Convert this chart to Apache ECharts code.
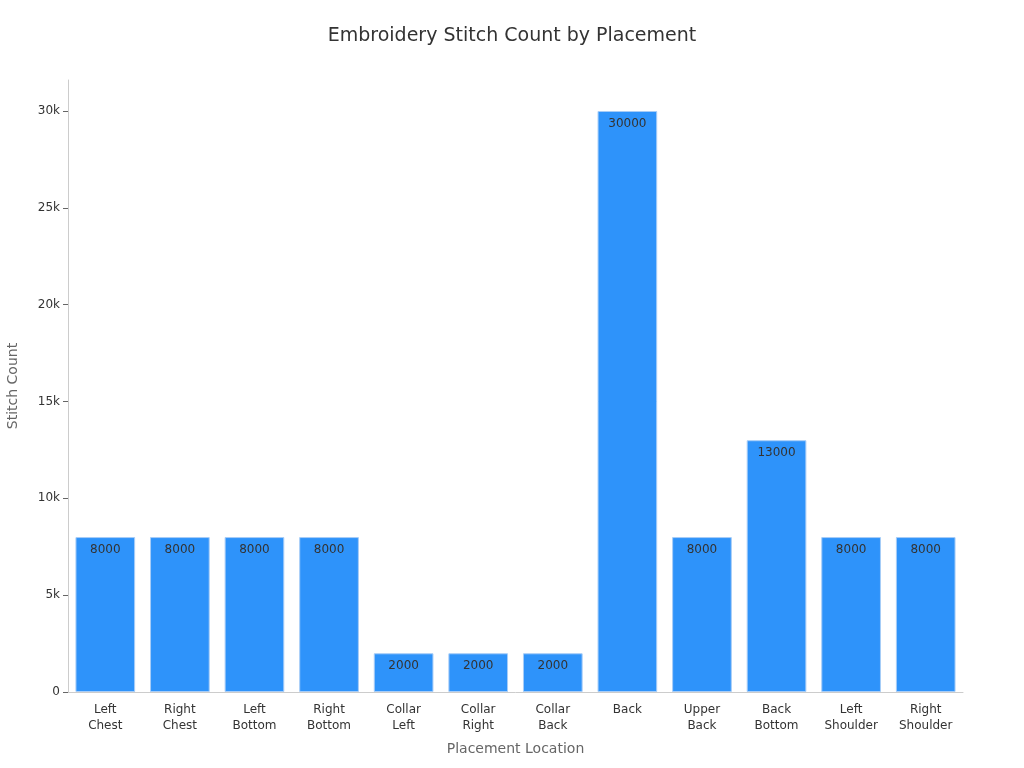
<!DOCTYPE html>
<html><head><meta charset="utf-8">
<script src="https://cdn.jsdelivr.net/npm/echarts@6/dist/echarts.min.js"></script>
<style>html,body{margin:0;padding:0}#chart{width:1024px;height:768px}</style>
</head><body><div id="chart"></div>
<script>
let placements = ['Left\nChest', 'Right\nChest', 'Left\nBottom', 'Right\nBottom', 'Collar\nLeft', 'Collar\nRight', 'Collar\nBack', 'Back', 'Upper\nBack', 'Back\nBottom', 'Left\nShoulder', 'Right\nShoulder'];
let stitches = [8000, 8000, 8000, 8000, 2000, 2000, 2000, 30000, 8000, 13000, 8000, 8000];

let chart = echarts.init(document.getElementById('chart'));
chart.setOption({
    textStyle: {fontFamily: 'DejaVu Sans'},
    title: {
        text: 'Embroidery Stitch Count by Placement',
        left: 'center',
        top: 22,
        textStyle: {fontSize: 19, fontWeight: 'normal', color: '#333'}
    },
    grid: {left: 68, right: 61, top: 80, bottom: 76, containLabel: false, outerBoundsMode: 'none'},
    xAxis: {
        type: 'category',
        data: placements,
        name: 'Placement Location',
        nameLocation: 'middle',
        nameGap: 50,
        nameTextStyle: {fontSize: 14, color: '#666'},
        axisLine: {lineStyle: {color: '#ccc'}},
        axisTick: {show: false},
        axisLabel: {color: '#333', fontSize: 12, interval: 0, lineHeight: 16, margin: 10}
    },
    yAxis: {
        type: 'value',
        min: 0,
        max: 31600,
        interval: 5000,
        name: 'Stitch Count',
        nameLocation: 'middle',
        nameGap: 48,
        nameTextStyle: {fontSize: 14, color: '#666'},
        axisLine: {show: true, lineStyle: {color: '#ccc'}},
        axisTick: {show: true, lineStyle: {color: '#666'}},
        splitLine: {show: false},
        axisLabel: {
            color: '#333', fontSize: 12, showMaxLabel: false,
            formatter: function (v) { return v === 0 ? '0' : (v / 1000) + 'k'; }
        }
    },
    series: [{
        type: 'bar',
        data: stitches,
        barWidth: '80%',
        itemStyle: {color: '#2e93fa', borderColor: '#a8cdf7', borderWidth: 1},
        label: {show: true, position: 'insideTop', color: '#333', fontSize: 12, offset: [0, 2]}
    }]
});
</script></body></html>
